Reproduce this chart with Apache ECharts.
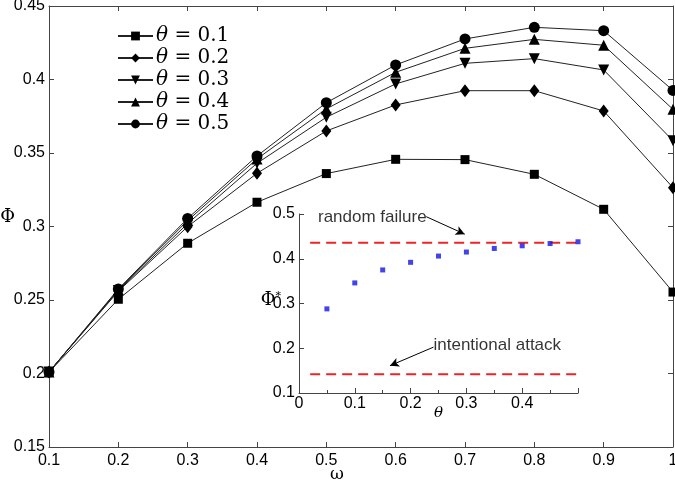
<!DOCTYPE html>
<html><head><meta charset="utf-8">
<script src="https://cdn.jsdelivr.net/npm/echarts@6/dist/echarts.min.js"></script>
<style>html,body{margin:0;padding:0;background:#fff}#c{width:675px;height:487px}</style>
</head><body><div id="c"></div>
<script>
const omega = [0.1,0.2,0.3,0.4,0.5,0.6,0.7,0.8,0.9,1.0];
const theta01 = [0.201,0.2505,0.2886,0.3165,0.336,0.3457,0.3455,0.3355,0.3117,0.2554];
const theta02 = [0.201,0.256,0.2999,0.3362,0.365,0.3827,0.3924,0.3924,0.3786,0.3264];
const theta03 = [0.201,0.2565,0.302,0.343,0.3743,0.397,0.411,0.4142,0.4065,0.3584];
const theta04 = [0.201,0.257,0.304,0.346,0.380,0.4049,0.4212,0.4273,0.4233,0.3797];
const theta05 = [0.201,0.2575,0.3055,0.348,0.3842,0.4099,0.4276,0.4355,0.4332,0.3926];
const seriesNames = ['0.1','0.2','0.3','0.4','0.5'];
const thetaX = [0.05,0.1,0.15,0.2,0.25,0.3,0.35,0.4,0.45,0.5];
const phiStar = [0.288,0.346,0.375,0.392,0.406,0.415,0.423,0.429,0.434,0.438];
const randomFailure = 0.436;
const intentionalAttack = 0.142;
const dashRange = [0.02,0.5];
const annotRandom = {text:'random failure', at:[0.034,0.493], arrow:[[0.228,0.494],[0.297,0.455]]};
const annotAttack = {text:'intentional attack', at:[0.241,0.207], arrow:[[0.241,0.2025],[0.163,0.161]]};

const mainData = [theta01,theta02,theta03,theta04,theta05];
const symbols = [
  {s:'rect', size:9, rot:0},
  {s:'diamond', size:[10,13], rot:0},
  {s:'triangle', size:11, rot:180},
  {s:'triangle', size:11, rot:0},
  {s:'circle', size:11, rot:0}
];
const sans = 'Liberation Sans';
const axisCommon = {
  axisLine:{show:true,lineStyle:{color:'#444',width:1}},
  axisTick:{show:true,inside:true,length:5,lineStyle:{color:'#444'}},
  splitLine:{show:false},
  nameMoveOverlap:false,
  axisLabel:{color:'#000',fontFamily:sans,fontSize:16}
};
const series = mainData.map((d,i)=>({
  name:'θ = '+seriesNames[i], type:'line', xAxisIndex:0, yAxisIndex:0,
  data: omega.map((x,j)=>[x,d[j]]),
  symbol:symbols[i].s, symbolSize:symbols[i].size, symbolRotate:symbols[i].rot,
  itemStyle:{color:'#000'}, lineStyle:{color:'#222',width:1}, z:3
}));
function dashLine(v){
  return {type:'line', xAxisIndex:2, yAxisIndex:2, data:[[dashRange[0],v],[dashRange[1],v]],
    symbol:'none', lineStyle:{color:'#e8262a',width:2,type:[10,6]}, silent:true};
}
series.push(dashLine(randomFailure), dashLine(intentionalAttack));
series.push({type:'scatter', xAxisIndex:2, yAxisIndex:2, data:thetaX.map((x,i)=>[x,phiStar[i]]),
  symbol:'rect', symbolSize:5, itemStyle:{color:'#1414e6'}, z:4});
function annot(a){
  return {type:'scatter', xAxisIndex:2, yAxisIndex:2, data:[a.at], symbolSize:0,
    label:{show:true, position:'right', distance:0, formatter:a.text, color:'#000', fontFamily:sans, fontSize:17},
    markLine:{silent:true, symbol:['none','arrow'], symbolSize:[7,9],
      lineStyle:{color:'#000',width:1,type:'solid'}, label:{show:false},
      data:[[{coord:a.arrow[0]},{coord:a.arrow[1]}]]}};
}
series.push(annot(annotRandom), annot(annotAttack));

const option = {
  backgroundColor:'#fff',
  animation:false,
  legend:{
    orient:'vertical', left:112, top:21, itemWidth:35, itemHeight:11, itemGap:2,
    data: series.slice(0,5).map(s=>s.name),
    formatter: n => '{i|θ}{t|' + n.slice(1) + '}',
    textStyle:{padding:[0,0,0,-2], rich:{
      i:{fontFamily:'DejaVu Serif',fontStyle:'italic',fontSize:20,lineHeight:20,color:'#000'},
      t:{fontFamily:'DejaVu Serif',fontSize:20,lineHeight:20,color:'#000'}
    }}
  },
  grid:[
    {left:49, right:2, top:6, bottom:40, outerBoundsMode:'none', containLabel:false},
    {left:49, right:2, top:6, bottom:40, outerBoundsMode:'none', containLabel:false},
    {left:299, top:214, width:279, height:179, show:false, outerBoundsMode:'none', containLabel:false}
  ],
  xAxis:[
    Object.assign({}, axisCommon, {type:'value', gridIndex:0, min:0.1, max:1, interval:0.1,
      name:'ω', nameLocation:'middle', nameGap:19,
      nameTextStyle:{fontFamily:'DejaVu Serif',fontSize:17,color:'#000',padding:[0,48,0,0]},
      axisLabel:Object.assign({}, axisCommon.axisLabel,{margin:6})}),
    Object.assign({}, axisCommon, {type:'value', gridIndex:1, position:'top', min:0.1, max:1, interval:0.1, axisLabel:{show:false}}),
    Object.assign({}, axisCommon, {type:'value', gridIndex:2, min:0, max:0.5, interval:0.1,
      minorTick:{show:true,splitNumber:2,length:3,lineStyle:{color:'#444'}},
      name:'θ', nameLocation:'middle', nameGap:13,
      nameTextStyle:{fontFamily:'DejaVu Serif',fontStyle:'italic',fontSize:15,color:'#000'},
      axisLabel:Object.assign({}, axisCommon.axisLabel,{margin:3, formatter:v=> v>=0.5?'':String(+v.toFixed(1))})})
  ],
  yAxis:[
    Object.assign({}, axisCommon, {type:'value', gridIndex:0, min:0.15, max:0.45, interval:0.05,
      name:'Φ', nameLocation:'middle', nameGap:34, nameRotate:0,
      nameTextStyle:{fontFamily:'DejaVu Serif',fontSize:18,color:'#000',verticalAlign:'bottom'},
      axisLabel:Object.assign({}, axisCommon.axisLabel,{margin:4, formatter:v=>String(+v.toFixed(2))})}),
    Object.assign({}, axisCommon, {type:'value', gridIndex:1, position:'right', min:0.15, max:0.45, interval:0.05, axisLabel:{show:false}}),
    Object.assign({}, axisCommon, {type:'value', gridIndex:2, min:0.1, max:0.5, interval:0.1,
      name:'{a|Φ}{s|*}', nameLocation:'middle', nameGap:18, nameRotate:0,
      nameTextStyle:{rich:{a:{fontFamily:'DejaVu Serif',fontSize:18,color:'#000'},s:{fontFamily:'DejaVu Serif',fontSize:11,color:'#000',verticalAlign:'top',padding:[0,0,8,0]}}, padding:[0,0,6,0]},
      axisLabel:Object.assign({}, axisCommon.axisLabel,{margin:4, formatter:v=>String(+v.toFixed(1))})})
  ],
  series: series
};
const chart = echarts.init(document.getElementById('c'));
chart.setOption(option);
</script></body></html>
